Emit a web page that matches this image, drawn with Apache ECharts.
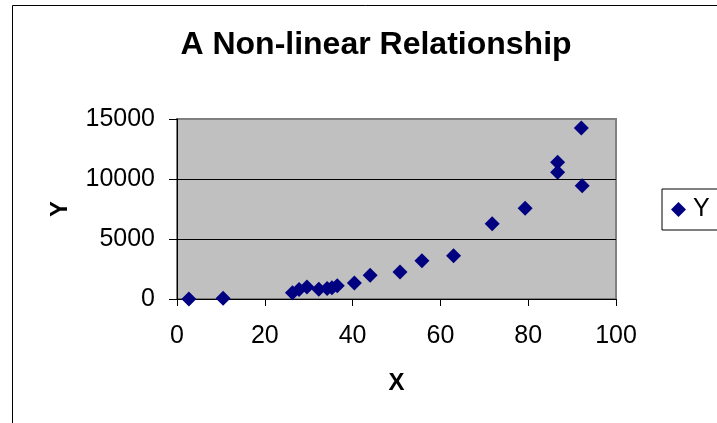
<!DOCTYPE html>
<html>
<head>
<meta charset="utf-8">
<script src="https://cdn.jsdelivr.net/npm/echarts@6/dist/echarts.min.js"></script>
<style>
html,body{margin:0;padding:0;background:#fff;}
#chart{width:717px;height:423px;}
</style>
</head>
<body>
<div id="chart"></div>
<script>
var chartTitle = 'A Non-linear Relationship';
var seriesName = 'Y';
var xName = 'X';
var yName = 'Y';
var xValues = [2.7, 10.5, 26.3, 27.8, 29.6, 32.3, 34.2, 35.3, 36.5, 40.4, 44.0, 50.8, 55.8, 63.0, 71.8, 79.3, 86.7, 86.7, 92.1, 92.3];
var yValues = [0, 60, 520, 800, 1000, 820, 880, 940, 1110, 1330, 1970, 2250, 3190, 3610, 6280, 7560, 11390, 10560, 14250, 9440];
var xTicks = [0, 20, 40, 60, 80, 100];
var yTicks = [0, 5000, 10000, 15000];

var points = xValues.map(function (x, i) { return [x, yValues[i]]; });
var font = '"Liberation Sans", Arial, sans-serif';

var chart = echarts.init(document.getElementById('chart'), null, {renderer: 'canvas'});
chart.setOption({
  animation: false,
  backgroundColor: '#ffffff',
  title: {
    text: chartTitle,
    left: 371,
    textAlign: 'center',
    top: 24,
    textStyle: {fontFamily: font, fontSize: 32, fontWeight: 'bold', color: '#000'}
  },
  legend: {
    left: 662,
    top: 189,
    orient: 'vertical',
    icon: 'diamond',
    itemWidth: 15,
    itemHeight: 15,
    padding: [8, 40, 8, 9],
    borderColor: '#000',
    borderWidth: 1,
    backgroundColor: '#fff',
    textStyle: {fontFamily: font, fontSize: 25, color: '#000', padding: [0, 0, 0, 2]},
    data: [seriesName]
  },
  grid: {
    left: 177, top: 119, width: 439, height: 180,
    show: true,
    backgroundColor: '#C0C0C0',
    borderColor: '#808080',
    borderWidth: 2
  },
  xAxis: {
    type: 'value',
    min: xTicks[0], max: xTicks[xTicks.length - 1], interval: 20,
    name: xName,
    nameLocation: 'middle',
    nameGap: 72,
    nameTextStyle: {fontFamily: font, fontSize: 24, fontWeight: 'bold', color: '#000'},
    axisLine: {show: true, onZero: false, lineStyle: {color: '#000', width: 1}},
    axisTick: {show: true, inside: false, length: 7, lineStyle: {color: '#000'}},
    axisLabel: {margin: 25, fontFamily: font, fontSize: 25, color: '#000',
      formatter: function (v) { return String(v); }},
    splitLine: {show: false}
  },
  yAxis: {
    type: 'value',
    min: yTicks[0], max: yTicks[yTicks.length - 1], interval: 5000,
    name: yName,
    nameLocation: 'middle',
    nameGap: 105,
    nameRotate: 90,
    nameTextStyle: {fontFamily: font, fontSize: 24, fontWeight: 'bold', color: '#000'},
    axisLine: {show: true, onZero: false, lineStyle: {color: '#000', width: 1}},
    axisTick: {show: true, inside: false, length: 8, lineStyle: {color: '#000'}},
    axisLabel: {margin: 22, fontFamily: font, fontSize: 25, color: '#000',
      formatter: function (v) { return String(v); }},
    splitLine: {show: true, lineStyle: {color: ['#000', '#000', '#000', '#808080'], width: 1}}
  },
  graphic: [{
    type: 'rect',
    silent: true,
    z: 100,
    shape: {x: 12.5, y: 5.5, width: 800, height: 500},
    style: {fill: 'none', stroke: '#000', lineWidth: 1}
  }],
  series: [{
    name: seriesName,
    type: 'scatter',
    symbol: 'diamond',
    symbolSize: 15,
    itemStyle: {color: '#000080', opacity: 1},
    data: points
  }]
});
</script>
</body>
</html>
